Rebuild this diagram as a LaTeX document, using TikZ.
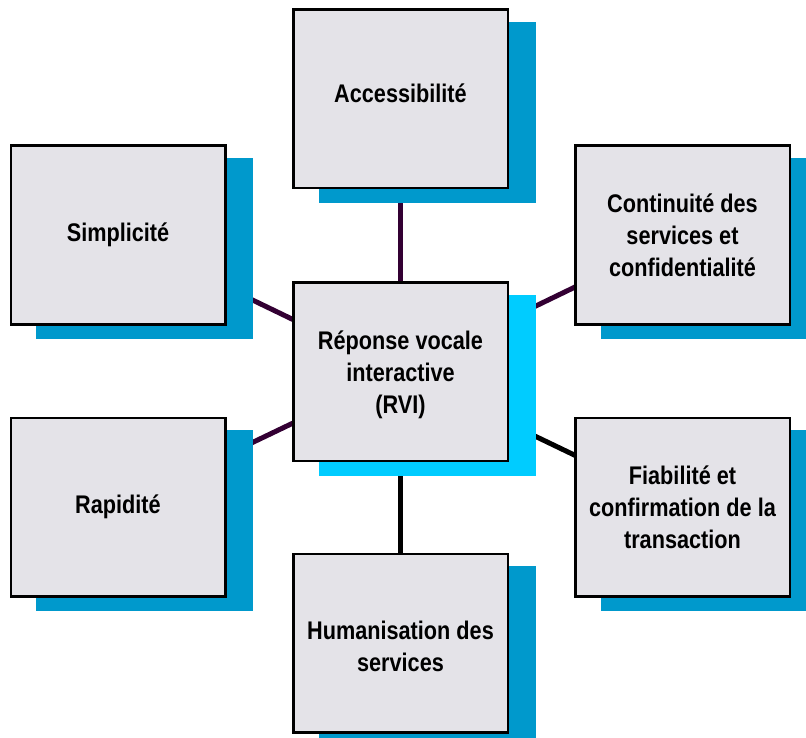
\documentclass[tikz,border=0pt]{standalone}
\usepackage{fontspec}
\setmainfont{Liberation Sans}[FakeStretch=0.85]
\usetikzlibrary{shadows}

\definecolor{boxfill}{HTML}{E4E3E8}
\definecolor{shadowblue}{HTML}{0099CC}
\definecolor{shadowcyan}{HTML}{00CCFF}
\definecolor{linkpurple}{HTML}{330033}

\pgfdeclarelayer{background}
\pgfsetlayers{background,main}

% shift a centred block of lines vertically without changing its size
\newcommand{\nudge}[2]{\raisebox{#1}[\height][\depth]{\begin{tabular}{@{}c@{}}#2\end{tabular}}}

\tikzset{
  topic/.style={
    draw=black, line width=2.5pt, fill=boxfill,
    minimum width=214.5pt, minimum height=178.5pt, inner sep=0pt,
    align=center, font=\fontsize{25.5}{32}\selectfont\bfseries,
    general shadow={draw=#1, fill=#1, line width=2.5pt,
                    shadow xshift=26.5pt, shadow yshift=-13.5pt}
  },
  topic/.default=shadowblue,
  link/.style={line width=5pt, draw=#1},
  link/.default=linkpurple
}

\begin{document}
\begin{tikzpicture}[x=1pt,y=-1pt]
  \useasboundingbox (0,0) rectangle (806,738);
  \clip (0,0) rectangle (806,738);

  \node[topic] (acc)  at (400.5,99)  {\nudge{3pt}{Accessibilité}};
  \node[topic] (simp) at (118,235)   {Simplicité};
  \node[topic] (cont) at (682.5,235) {Continuité des\\services et\\confidentialité};
  \node[topic=shadowcyan] (rvi) at (400.5,371.5) {\nudge{-4pt}{Réponse vocale\\interactive\\(RVI)}};
  \node[topic] (rap)  at (118,507)   {Rapidité};
  \node[topic] (fiab) at (682.5,507) {Fiabilité et\\confirmation de la\\transaction};
  \node[topic] (hum)  at (400.5,643) {\nudge{-6pt}{Humanisation des\\services}};

  \begin{pgfonlayer}{background}
    \draw[link] (acc.center) -- (rvi.center);
    \draw[link] (simp.center) -- (rvi.center);
    \draw[link] (cont.center) -- (rvi.center);
    \draw[link] (rap.center) -- (rvi.center);
    \draw[link=black] (fiab.center) -- (rvi.center);
    \draw[link=black] (hum.center) -- (rvi.center);
  \end{pgfonlayer}
\end{tikzpicture}
\end{document}
